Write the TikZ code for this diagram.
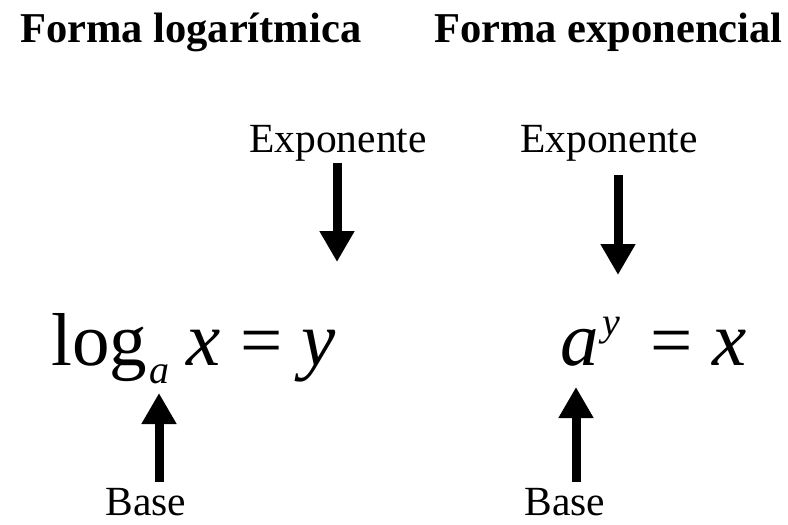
\documentclass[tikz,border=0pt]{standalone}
\usepackage{fontspec}
\setmainfont{Liberation Serif}
\usetikzlibrary{arrows.meta}

\tikzset{
  flecha/.style={line width=9pt, -{Triangle[length=31pt, width=33pt]}},
  titulo/.style={anchor=base west, inner sep=0pt, font=\fontsize{42.5}{42.5}\selectfont\bfseries},
  rotulo/.style={anchor=base, inner sep=0pt, font=\fontsize{41.5}{41.5}\selectfont},
  formula/.style={anchor=base west, inner sep=0pt, font=\fontsize{75}{75}\selectfont},
  formulait/.style={formula, font=\fontsize{77}{77}\selectfont\itshape},
  indice/.style={anchor=base west, inner sep=0pt, font=\fontsize{40}{40}\selectfont\itshape},
}

\begin{document}
\begin{tikzpicture}[x=1pt, y=-1pt]
  \useasboundingbox (0,0) rectangle (788,525);
  \node[titulo] (tLog) at (20,42) {Forma logarítmica};
  \node[titulo] (tExp) at (434,42) {Forma exponencial};
  \node[rotulo] (expL) at (338,152) {Exponente};
  \node[rotulo] (expR) at (609,152) {Exponente};
  \node[rotulo] (baseL) at (146,515) {Base};
  \node[rotulo] (baseR) at (565,515) {Base};
  % log_a x = y
  \node[formula] (log) at (51,365) {log};
  \node[indice] (subA) at (149,383) {a};
  \node[formulait] (xL) at (186,365) {x};
  \node[formula] (eqL) at (240,365) {=};
  \node[formulait] (yL) at (301,365) {y};
  % a^y = x
  \node[formulait] (aR) at (560,365) {a};
  \node[indice] (supY) at (602,335) {y};
  \node[formula] (eqR) at (650,365) {=};
  \node[formulait] (xR) at (712,365) {x};
  % puntas de las flechas
  \coordinate (pEL) at (337,262);
  \coordinate (pER) at (618,275);
  \coordinate (pBL) at (159,393);
  \coordinate (pBR) at (576,387);
  \foreach \de/\a/\ini in {expL.south/pEL/2, expR.south/pER/14,
      baseL.north/pBL/6, baseR.north/pBR/6}
    \draw[flecha, shorten <=\ini pt] (\de -| \a) -- (\a);
\end{tikzpicture}
\end{document}
